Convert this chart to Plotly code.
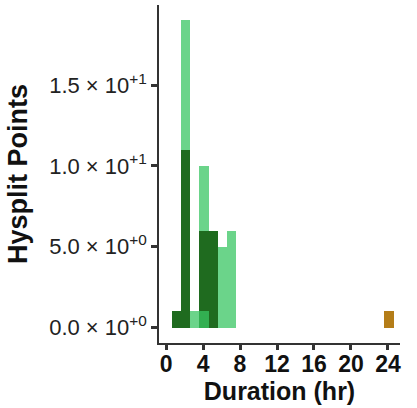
import plotly.graph_objects as go

# Bin centres (hours) and counts
bins = [1.1, 2.1, 3.1, 4.1, 5.1, 6.1, 7.1]
light_counts = [0, 19, 0, 10, 0, 5, 6]      # light green group (drawn first)
dark_counts = [1, 11, 0, 6, 6, 0, 0]        # dark green group
light2_counts = [0, 0, 1, 1, 0, 0, 0]       # light green group drawn on top
orange_bins = [24.1]
orange_counts = [1]

y_tickvals = [0, 5, 10, 15]
y_ticktext = ["0.0 × 10<sup>+0</sup>", "5.0 × 10<sup>+0</sup>",
              "1.0 × 10<sup>+1</sup>", "1.5 × 10<sup>+1</sup>"]
x_tickvals = [0, 4, 8, 12, 16, 20, 24]

LIGHT = "rgba(57,197,99,0.75)"
DARK = "#1F6B1F"
ORANGE = "rgba(176,118,12,0.95)"

fig = go.Figure()
fig.add_trace(go.Bar(x=bins, y=light_counts, width=1.0, marker_color=LIGHT,
                     marker_line_width=0, showlegend=False))
fig.add_trace(go.Bar(x=bins, y=dark_counts, width=1.0, marker_color=DARK,
                     marker_line_width=0, showlegend=False))
fig.add_trace(go.Bar(x=bins, y=light2_counts, width=1.0, marker_color=LIGHT,
                     marker_line_width=0, showlegend=False))
fig.add_trace(go.Bar(x=orange_bins, y=orange_counts, width=1.0, marker_color=ORANGE,
                     marker_line_width=0, showlegend=False))

fig.update_layout(
    width=417, height=408,
    barmode="overlay",
    bargap=0,
    plot_bgcolor="white",
    paper_bgcolor="white",
    margin=dict(l=159, r=17, t=5, b=65, autoexpand=False),
    font=dict(family="Liberation Sans, Arial, sans-serif", color="#111111"),
)
fig.update_xaxes(
    range=[-0.76, 25.3],
    tickvals=x_tickvals,
    ticktext=[f"<b>{v}</b>" for v in x_tickvals],
    tickfont=dict(size=23, color="#111111"),
    ticks="outside", ticklen=5, tickwidth=2.5, tickcolor="#333333",
    ticklabelstandoff=-5,
    showline=True, linecolor="#333333", linewidth=1.5,
    showgrid=False, zeroline=False,
    title=dict(text="<b>Duration (hr)</b>", font=dict(size=25, color="#111111"), standoff=0),
)
fig.update_yaxes(
    range=[-0.95, 19.95],
    tickvals=y_tickvals,
    ticktext=y_ticktext,
    tickfont=dict(size=22, color="#222222"),
    ticks="outside", ticklen=6, tickwidth=2.5, tickcolor="#333333",
    showline=True, linecolor="#333333", linewidth=1.5,
    showgrid=False, zeroline=False,
    title=dict(text="<b>Hysplit Points</b>", font=dict(size=27, color="#111111"), standoff=14),
)

fig.write_html("out.html", config={"displayModeBar": False},
               post_script="document.body.style.margin='0';")
